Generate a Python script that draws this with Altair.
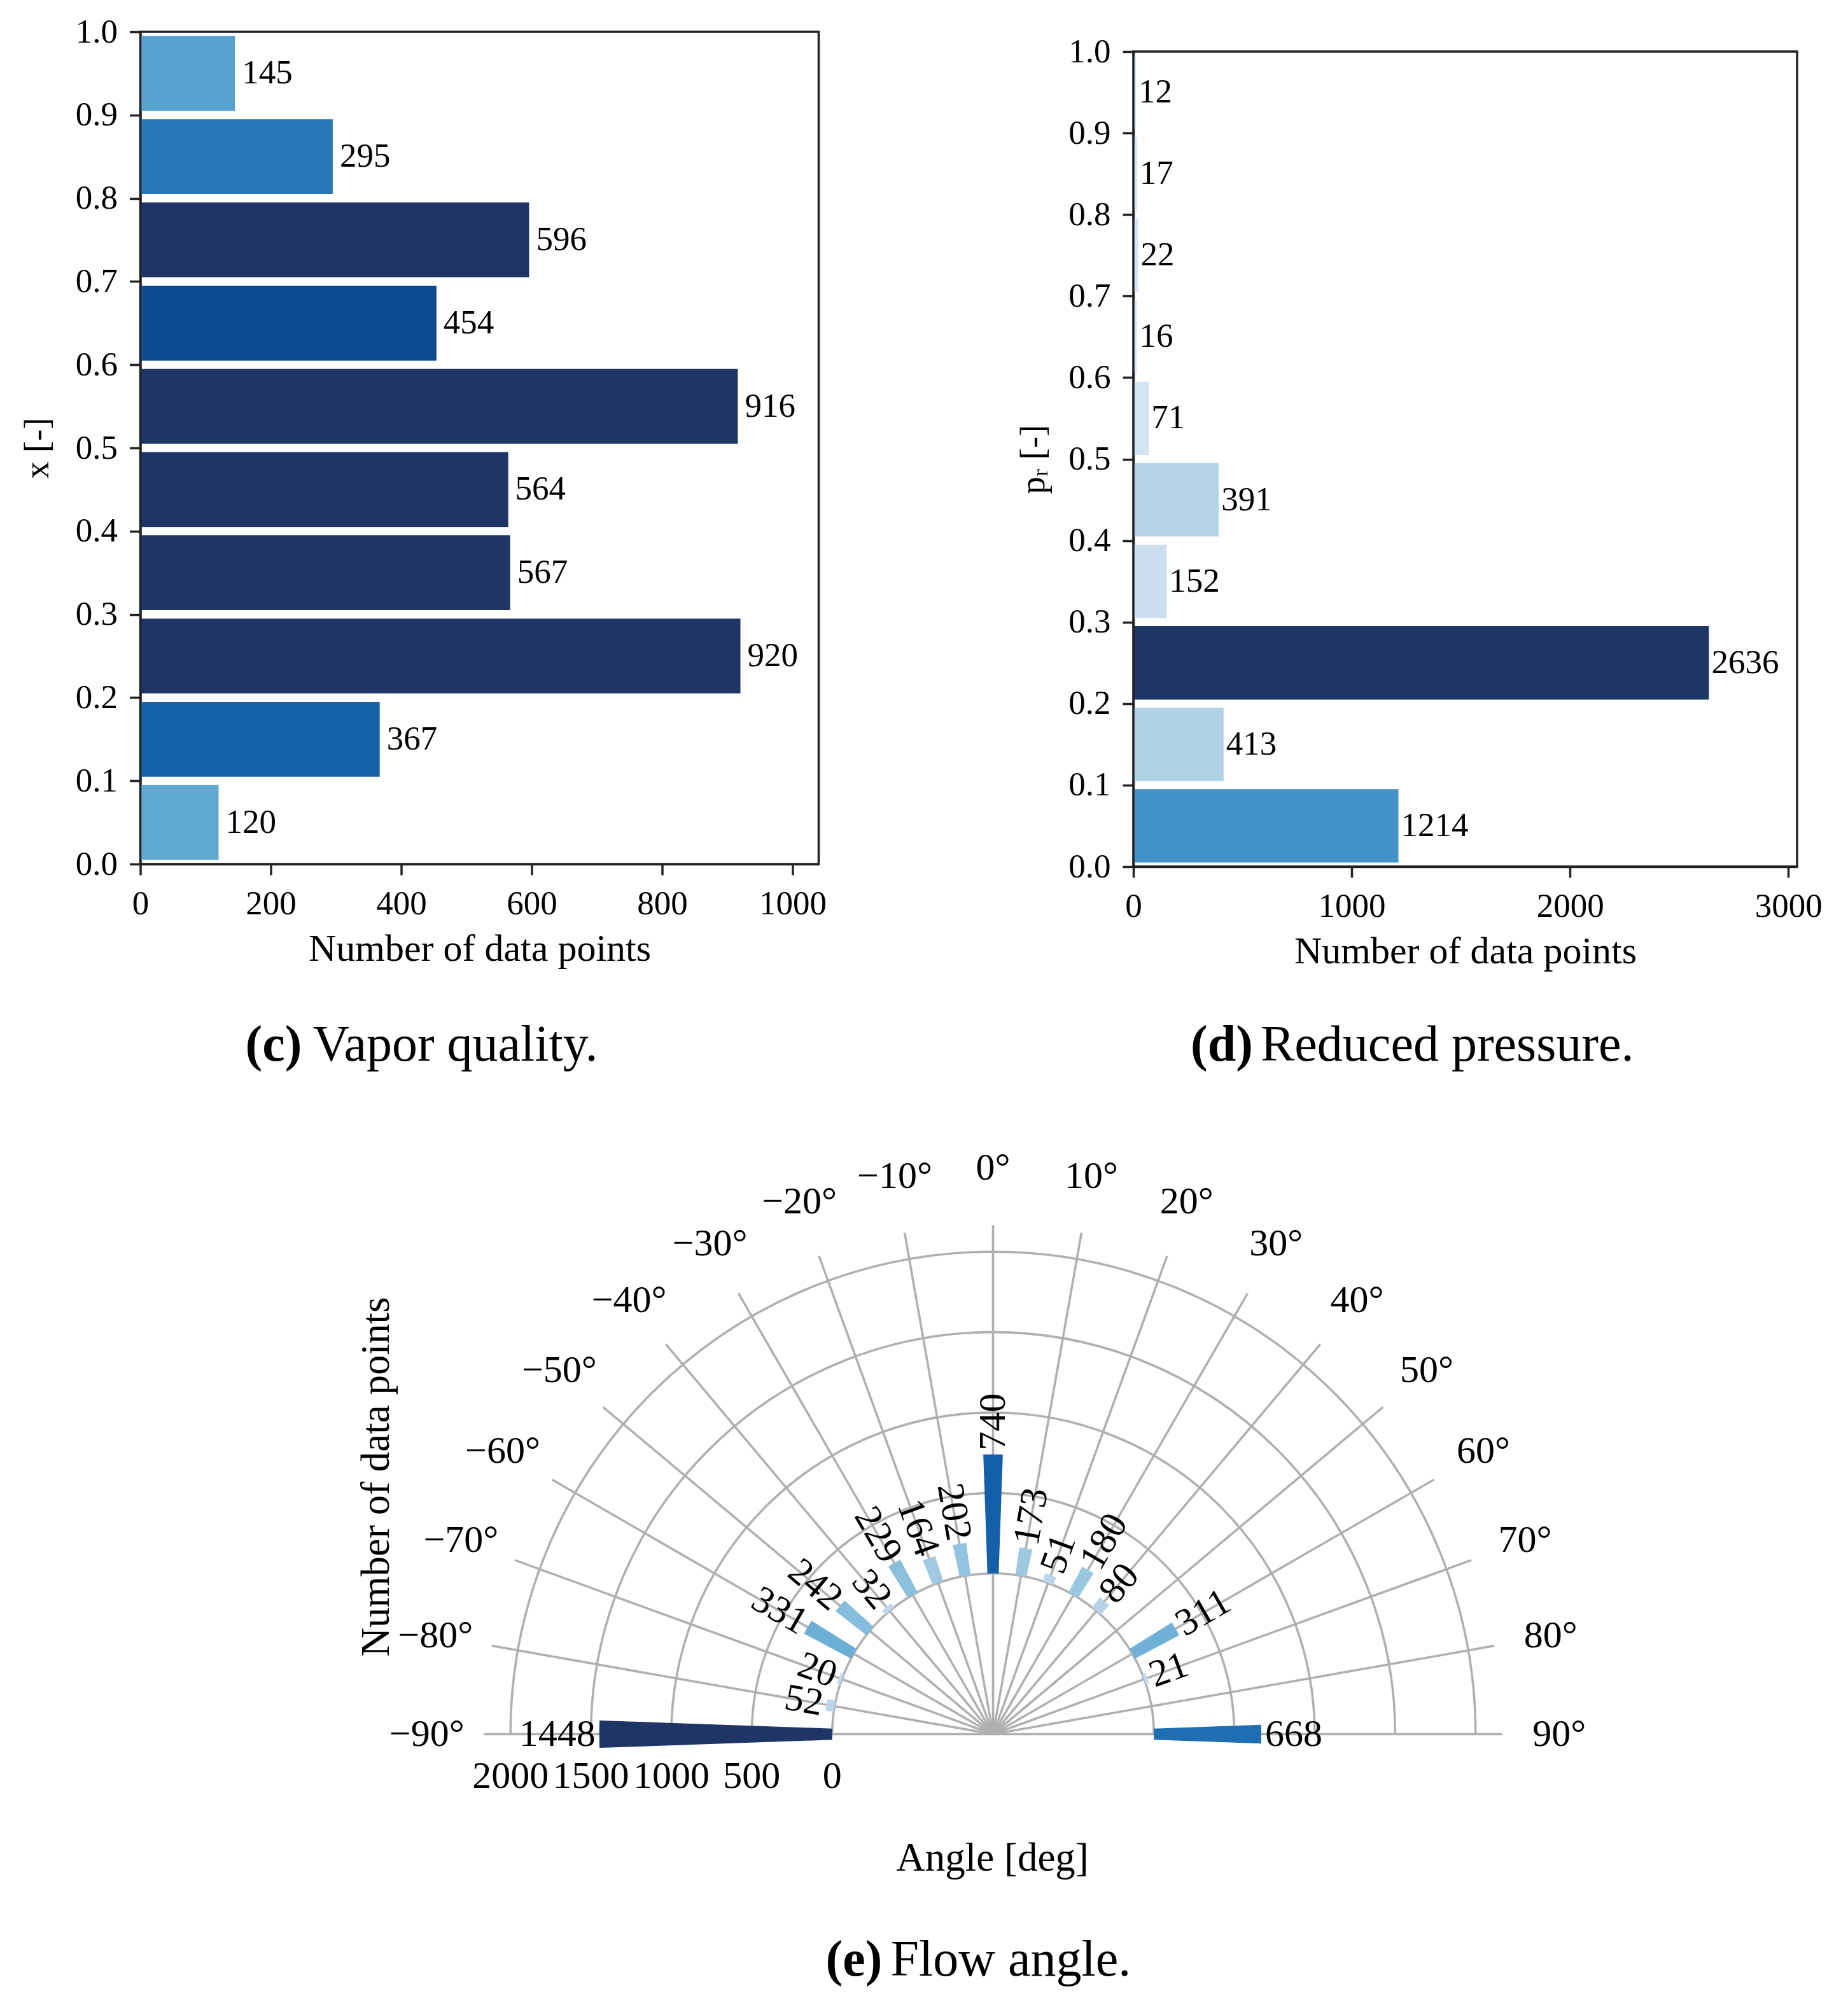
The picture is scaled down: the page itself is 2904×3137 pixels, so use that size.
import math
import altair as alt
import pandas as pd

FONT = "Liberation Serif"

# ---------------- data ----------------
bin_starts = [0.0, 0.1, 0.2, 0.3, 0.4, 0.5, 0.6, 0.7, 0.8, 0.9]
vapor_counts = [120, 367, 920, 567, 564, 916, 454, 596, 295, 145]
pressure_counts = [1214, 413, 2636, 152, 391, 71, 16, 22, 17, 12]

flow_angles = [-90, -80, -70, -60, -50, -40, -30, -20, -10, 0, 10, 20, 30, 40, 60, 70, 90]
flow_counts = [1448, 52, 20, 331, 242, 32, 229, 164, 202, 740, 173, 51, 180, 80, 311, 21, 668]

y_ticks = [0.0, 0.1, 0.2, 0.3, 0.4, 0.5, 0.6, 0.7, 0.8, 0.9, 1.0]
vapor_x_ticks = [0, 200, 400, 600, 800, 1000]
pressure_x_ticks = [0, 1000, 2000, 3000]
angle_ticks = [-90, -80, -70, -60, -50, -40, -30, -20, -10, 0, 10, 20, 30, 40, 50, 60, 70, 80, 90]
radial_ticks = [0, 500, 1000, 1500, 2000]

# ---------------- styling ----------------
BLUES = ["#f7fbff", "#deebf7", "#c6dbef", "#9ecae1", "#6baed6",
         "#4292c6", "#2171b5", "#08519c", "#1f3566"]
GRID = "#b0b0b0"
DARK = "#222222"
CAP = 80


def stops(v0, v1):
    return [v0 + (v1 - v0) * i / 8 for i in range(9)]


def caption(tag, text, tag_x, text_x, y):
    c1 = alt.Chart(pd.DataFrame({"t": [tag]})).mark_text(
        align="left", baseline="middle", fontSize=CAP, fontWeight="bold",
        font=FONT, color="black"
    ).encode(x=alt.value(tag_x), y=alt.value(y), text="t:N")
    c2 = alt.Chart(pd.DataFrame({"t": [text]})).mark_text(
        align="left", baseline="middle", fontSize=CAP, font=FONT, color="black"
    ).encode(x=alt.value(text_x), y=alt.value(y), text="t:N")
    return [c1, c2]


def bar_panel(counts, xmax, xticks, ytitle, cdom, width, height, top,
              label_dx, title_x, tag, text, tag_x, text_x, cap_y):
    df = pd.DataFrame({"lo": bin_starts, "count": counts})
    base = alt.Chart(df).transform_calculate(
        y0="datum.lo + 0.005", y1="datum.lo + 0.095", yc="datum.lo + 0.05",
        z="0"
    )
    xtitle = "Number of data points"
    xs = alt.Scale(domain=[0, xmax], nice=False, zero=True)
    ys = alt.Scale(domain=[0, 1], range=[height, top], nice=False, zero=True)
    xaxis = alt.Axis(values=xticks, format="d", titleY=133,
                     titleBaseline="middle", titleFontSize=60)
    yaxis = alt.Axis(values=y_ticks, format=".1f", titleX=title_x,
                     titleY=(height + top) / 2, titleAngle=270,
                     titleBaseline="middle", titleFontSize=55)
    X = lambda f: alt.X(f, title=xtitle, scale=xs, axis=xaxis)
    Y = lambda f: alt.Y(f, title=ytitle, scale=ys, axis=yaxis)
    bars = base.mark_rect().encode(
        x=X("count:Q"), x2="z", y=Y("y0:Q"), y2="y1",
        color=alt.Color("count:Q", legend=None,
                        scale=alt.Scale(domain=cdom, range=BLUES, clamp=True,
                                        interpolate="rgb")),
    )
    labels = base.mark_text(
        align="left", baseline="middle", dx=label_dx, fontSize=53,
        font=FONT, color="black"
    ).encode(x=X("count:Q"), y=Y("yc:Q"), text=alt.Text("count:Q", format="d"))
    frame = alt.Chart(
        pd.DataFrame({"fx0": [0], "fx1": [xmax], "fy0": [0.0], "fy1": [1.0]})
    ).mark_rect(fillOpacity=0, stroke=DARK, strokeWidth=3.5).encode(
        x=X("fx0:Q"), x2="fx1", y=Y("fy0:Q"), y2="fy1"
    )
    layers = [bars, labels, frame] + caption(tag, text, tag_x, text_x, cap_y)
    return alt.layer(*layers).properties(
        width=width, height=height,
        view=alt.ViewBackground(stroke="transparent", strokeWidth=0),
    )


left = bar_panel(vapor_counts, 1040, vapor_x_ticks, "x [-]", stops(-364, 545),
                 1066, 1308, 0, 11, -162, "(c)", "Vapor quality.",
                 165, 271, 1592.5)
right = bar_panel(pressure_counts, 3040, pressure_x_ticks, "p\u1d63 [-]",
                  stops(-432, 2220), 1043, 1312, 31, 4, -158, "(d)",
                  "Reduced pressure.", 90, 200, 1592.5)

top_row = alt.hconcat(left, right, spacing=297.5).resolve_scale(color="independent")

# ---------------- polar chart ----------------
R_ORIGIN = -1000
R_MAX = 2165
LABEL_R = 2520
CX, CY = 1340, 1030.5

TH = alt.Scale(type="linear", domain=[-90, 90], range=[-math.pi / 2, math.pi / 2],
               zero=False, nice=False)
RS = alt.Scale(type="linear", domain=[R_ORIGIN, R_MAX], range=[0, 800],
               zero=False, nice=False)
ROT = alt.Scale(type="linear", domain=[0, 360], range=[0, 360], zero=False, nice=False)
cx = alt.value(CX)
cy = alt.value(CY)

circles = alt.Chart(pd.DataFrame({"r": radial_ticks})).transform_calculate(
    t0="-90", t1="90"
).mark_arc(fillOpacity=0, stroke=GRID, strokeWidth=3.6).encode(
    x=cx, y=cy,
    theta=alt.Theta("t0:Q", scale=TH, stack=False),
    theta2="t1",
    radius=alt.Radius("r:Q", scale=RS),
    radius2="r",
)

spokes = alt.Chart(pd.DataFrame({"a": angle_ticks})).transform_calculate(
    r0=str(R_ORIGIN), r1=str(R_MAX)
).mark_arc(fillOpacity=0, stroke=GRID, strokeWidth=3.6).encode(
    x=cx, y=cy,
    theta=alt.Theta("a:Q", scale=TH, stack=False),
    theta2="a",
    radius=alt.Radius("r0:Q", scale=RS),
    radius2="r1",
)

pol_df = pd.DataFrame({"a": flow_angles, "n": flow_counts})
pol_base = alt.Chart(pol_df).transform_calculate(
    a0="datum.a - 2", a1="datum.a + 2", z="0",
    rot="datum.a >= 0 ? datum.a + 270 : datum.a + 90",
)
wedges = pol_base.mark_arc().encode(
    x=cx, y=cy,
    theta=alt.Theta("a0:Q", scale=TH, stack=False),
    theta2="a1",
    radius=alt.Radius("z:Q", scale=RS),
    radius2="n",
    color=alt.Color("n:Q", legend=None,
                    scale=alt.Scale(domain=stops(-317, 978), range=BLUES,
                                    clamp=True, interpolate="rgb")),
)


def bar_labels(flt, align, dx):
    return pol_base.transform_filter(flt).mark_text(
        align=align, baseline="middle", dx=dx, fontSize=60, font=FONT,
        color="black"
    ).encode(
        x=cx, y=cy,
        theta=alt.Theta("a:Q", scale=TH, stack=False),
        radius=alt.Radius("n:Q", scale=RS),
        angle=alt.Angle("rot:Q", scale=ROT),
        text=alt.Text("n:Q", format="d"),
    )


labels_r = bar_labels("datum.a >= 0", "left", 6)
labels_l = bar_labels("datum.a < 0", "right", -6)

ang_df = pd.DataFrame({
    "a": angle_ticks,
    "lab": [(f"{a}\u00b0").replace("-", "\u2212") for a in angle_ticks],
})
ang_labels = alt.Chart(ang_df).transform_calculate(
    rl=str(LABEL_R)
).mark_text(
    align="center", baseline="middle", fontSize=60, font=FONT, color="black"
).encode(
    x=cx, y=cy,
    theta=alt.Theta("a:Q", scale=TH, stack=False),
    radius=alt.Radius("rl:Q", scale=RS),
    text="lab:N",
)

rad_labels = alt.Chart(pd.DataFrame({"r": radial_ticks})).transform_calculate(
    t0="-90"
).mark_text(
    align="center", baseline="middle", fontSize=60, font=FONT, color="black",
    dy=66
).encode(
    x=cx, y=cy,
    theta=alt.Theta("t0:Q", scale=TH, stack=False),
    radius=alt.Radius("r:Q", scale=RS),
    text=alt.Text("r:Q", format="d"),
)

ytitle = alt.Chart(pd.DataFrame({"t": ["Number of data points"]})).mark_text(
    align="center", baseline="middle", fontSize=63, font=FONT, color="black",
    angle=270
).encode(x=alt.value(371), y=alt.value(626), text="t:N")

xtitle = alt.Chart(pd.DataFrame({"t": ["Angle [deg]"]})).mark_text(
    align="center", baseline="middle", fontSize=63, font=FONT, color="black"
).encode(x=alt.value(1339), y=alt.value(1226), text="t:N")

polar = alt.layer(
    circles, spokes, wedges, labels_r, labels_l, ang_labels, rad_labels,
    ytitle, xtitle, *caption("(e)", "Flow angle.", 1077, 1179, 1386)
).properties(
    width=2400, height=1430,
    view=alt.ViewBackground(stroke="transparent", strokeWidth=0),
)

chart = alt.vconcat(top_row, polar, spacing=12).resolve_scale(
    color="independent"
).properties(
    padding={"left": 23.5, "top": 16, "right": 10, "bottom": 5},
    background="white",
).configure(font=FONT).configure_axis(
    labelFont=FONT, labelFontSize=53, labelColor="black",
    titleFont=FONT, titleColor="black", titleFontWeight="normal",
    tickSize=17, tickWidth=3.5, tickColor=DARK,
    domainColor=DARK, domainWidth=3.5, labelPadding=19,
    grid=False, labelFlush=False, labelOverlap=False,
)

chart.save("out.html", embed_options={"renderer": "svg", "actions": False})
